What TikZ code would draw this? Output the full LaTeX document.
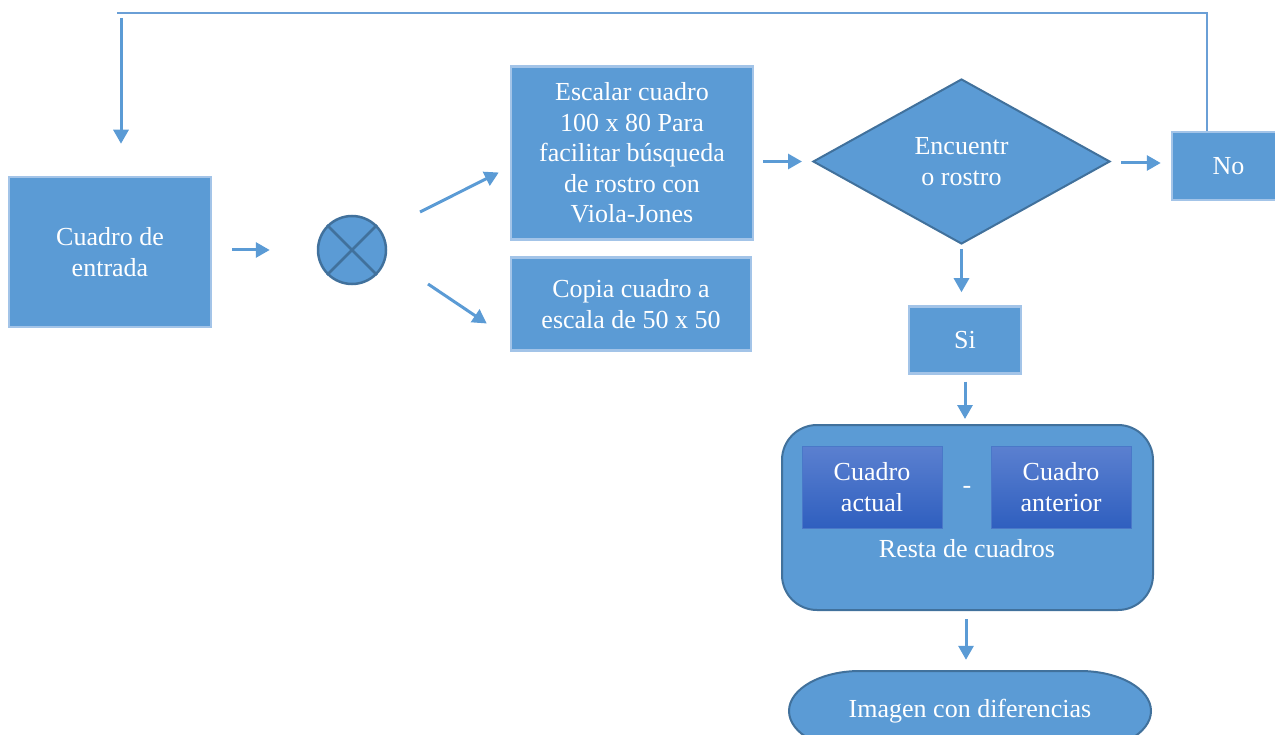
\documentclass[tikz,border=0pt]{standalone}
\usepackage{fontspec}
\setmainfont{Liberation Serif}
\usetikzlibrary{arrows.meta,shapes.geometric,calc}
\definecolor{blu}{HTML}{5B9BD5}
\definecolor{lightb}{HTML}{A3C4E8}
\definecolor{darkb}{HTML}{41719C}
\definecolor{gtop}{HTML}{5B80D0}
\definecolor{gbot}{HTML}{2F5FBF}
\definecolor{gedge}{HTML}{4A78C8}
\definecolor{loopc}{HTML}{6A9FD6}
\tikzset{
  txt/.style={text=white,font=\fontsize{26}{30.5}\selectfont,align=center,inner sep=0pt},
  pbox/.style={txt,rectangle,fill=blu,draw=lightb,line width=2.5pt},
  darkshape/.style={txt,fill=blu,draw=darkb,line width=2pt},
  gbox/.style={txt,rectangle,top color=gtop,bottom color=gbot,draw=gedge,line width=1pt},
  arr/.style={draw=blu,line width=3pt,-{Triangle[length=14pt,width=15pt]}},
  loopline/.style={draw=loopc,line width=1.3pt}
}
\begin{document}
\begin{tikzpicture}[x=1pt,y=-1pt]
\useasboundingbox (0,0) rectangle (1275,735);
\clip (0,0) rectangle (1275,735);
% nodes
\node[pbox,minimum width=202,minimum height=150] (in) at (110,252) {Cuadro de\\entrada};
\node[circle,fill=blu,draw=darkb,line width=2.5pt,minimum size=68,inner sep=0pt] (circ) at (352,250) {};
\draw[darkb,line width=2.5pt] (circ.north west) -- (circ.south east) (circ.north east) -- (circ.south west);
\node[pbox,minimum width=242,minimum height=173] (esc) at (632,153) {Escalar cuadro\\100 x 80 Para\\facilitar búsqueda\\de rostro con\\Viola-Jones};
\node[pbox,minimum width=240,minimum height=93] (cop) at (631,304) {Copia cuadro a\\escala de 50 x 50};
\node[darkshape,diamond,minimum width=297,minimum height=165,shape aspect=1.8] (dia) at (961.5,161.5) {Encuentr\\o rostro};
\node[pbox,minimum width=113,minimum height=68] (no) at (1228.5,166) {No};
\node[pbox,minimum width=112,minimum height=67] (si) at (965,340) {Si};
\node[darkshape,rectangle,rounded corners=35pt,minimum width=371,minimum height=185] (resta) at (967.5,517.5) {};
\node[gbox,minimum width=140,minimum height=82] (act) at (872,487) {Cuadro\\actual};
\node[gbox,minimum width=140,minimum height=82] (ant) at (1061,487) {Cuadro\\anterior};
\node[txt] (minus) at (967,490) {-};
\node[txt] (restalbl) at (967,549) {Resta de cuadros};
% stadium / ellipse-ended shape
\draw[fill=blu,draw=darkb,line width=2pt]
  (860,671) -- (1080,671)
  .. controls (1119.2,671) and (1151,688.9) .. (1151,711)
  .. controls (1151,733.1) and (1119.2,751) .. (1080,751)
  -- (860,751)
  .. controls (820.8,751) and (789,733.1) .. (789,711)
  .. controls (789,688.9) and (820.8,671) .. (860,671) -- cycle;
\node[txt,minimum width=362,minimum height=80] (img) at (970,711) {Imagen con diferencias};
% connectors
\coordinate (tl) at (117,13);
\draw[loopline] ([xshift=-21.5pt]no.north) |- (tl);
\coordinate (inTop) at ([xshift=11pt]in.north);
\draw[arr,shorten <=5pt,shorten >=32pt] (inTop |- tl) -- (inTop);
\draw[arr,shorten <=20pt,shorten >=47pt] ($(in.east)+(0,-2)$) -- ($(in.east -| circ.west)+(0,-2)$);
\draw[arr] ($(circ.center)+(68,-38)$) -- ($(esc.west)+(-11,19.5)$);
\draw[arr] ($(circ.center)+(76,34)$) -- ($(cop.west)+(-23,19.5)$);
\draw[arr,shorten <=9pt,shorten >=10pt] (esc.east |- dia.west) -- (dia.west);
\draw[arr,shorten <=10pt,shorten >=10pt] ($(dia.east)+(0,1.5)$) -- ($(dia.east -| no.west)+(0,1.5)$);
\draw[arr,shorten <=4pt,shorten >=13pt] (dia.south) -- (dia.south |- si.north);
\draw[arr,shorten <=7pt,shorten >=5pt] (si.south) -- (si.south |- resta.north);
\draw[arr,shorten <=8pt,shorten >=11pt] ($(resta.south)+(-1.5,0)$) -- ($(resta.south |- img.north)+(-1.5,0)$);
\end{tikzpicture}
\end{document}
